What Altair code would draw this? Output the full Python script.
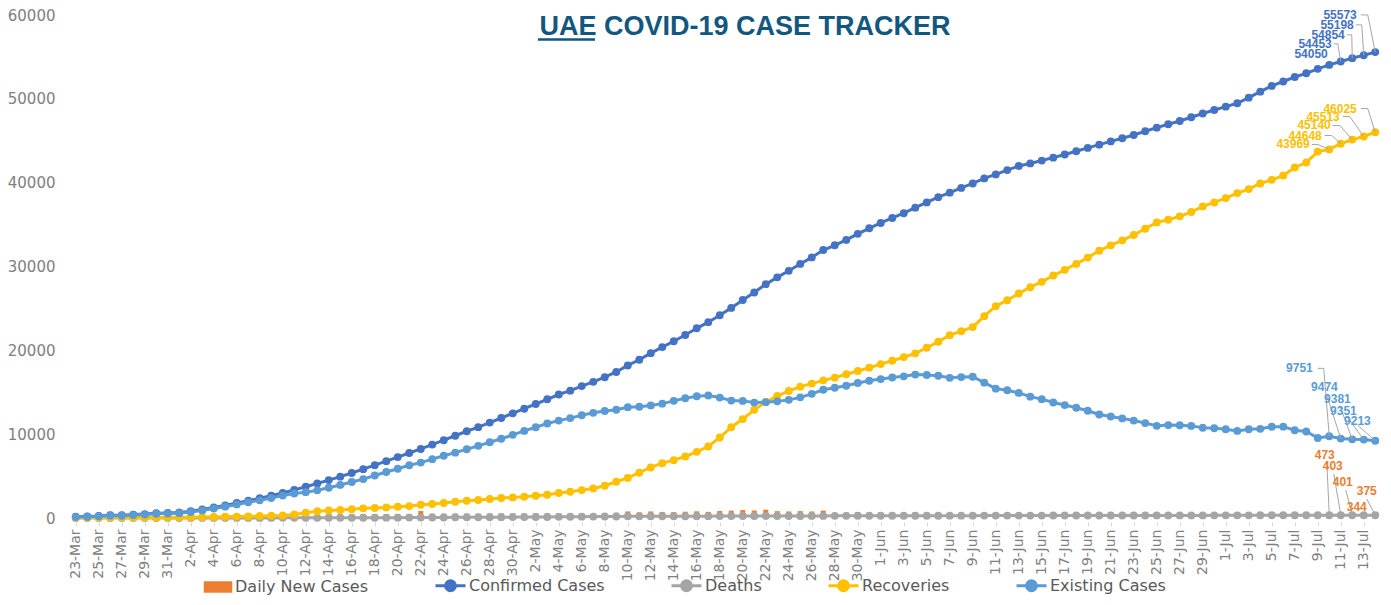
import altair as alt
import pandas as pd

# ---------------- data ----------------
dates = list(pd.date_range("2020-03-23", "2020-07-14").strftime("%-d-%b"))
tick_labels = dates[::2]

confirmed = [
    153, 198, 248, 333, 333, 405, 468, 570, 611,
    664, 814, 1024, 1264, 1505, 1799, 2076, 2359, 2659, 2990,
    3360, 3736, 4123, 4521, 4933, 5365, 5825, 6302, 6781, 7265,
    7755, 8238, 8756, 9281, 9813, 10349, 10839, 11380, 11929, 12481,
    13038, 13599, 14163, 14730, 15192, 15738, 16240, 16793, 17417, 18198,
    18878, 19661, 20386, 21084, 21831, 22627, 23358, 24190, 25063, 26004,
    26898, 27892, 28704, 29485, 30307, 31086, 31969, 32532, 33170, 33896, 34557,
    35192, 35788, 36359, 37018, 37642, 38268, 38808, 39376, 39904, 40507,
    40986, 41499, 41990, 42294, 42636, 42982, 43364, 43752, 44145, 44533,
    44925, 45303, 45683, 46133, 46563, 46973, 47360, 47797, 48246, 48667,
    49069, 49469, 50141, 50857, 51540, 52068, 52600, 53045, 53577, 54050,
    54453, 54854, 55198, 55573]

recoveries = [
    41, 45, 52, 52, 58, 58, 58, 61, 65,
    77, 96, 108, 125, 144, 167, 186, 239, 268, 300,
    420, 635, 800, 889, 960, 1040, 1150, 1200, 1260, 1340,
    1420, 1580, 1680, 1785, 1940, 2060, 2140, 2260, 2380, 2460,
    2540, 2650, 2770, 2975, 3130, 3330, 3530, 3850, 4320, 4780,
    5400, 6030, 6540, 6900, 7340, 7890, 8530, 9600, 10830, 11800,
    12900, 13840, 14550, 15150, 15670, 16030, 16420, 16740, 17140, 17530, 17930,
    18360, 18760, 19190, 19640, 20310, 21030, 21810, 22290, 22770, 24080,
    25270, 25980, 26780, 27530, 28170, 28920, 29600, 30310, 31060, 31890,
    32520, 33120, 33760, 34510, 35260, 35580, 35980, 36500, 37170, 37640,
    38160, 38760, 39230, 39900, 40340, 40850, 41810, 42400, 43710, 43969,
    44648, 45140, 45513, 46025]

deaths = [
    2, 2, 2, 2, 2, 2, 3, 3, 5,
    6, 8, 9, 10, 11, 11, 12, 12, 14, 16,
    16, 20, 22, 25, 28, 33, 35, 37, 41, 43,
    46, 52, 56, 64, 76, 82, 89, 89, 98, 105,
    111, 119, 126, 137, 146, 157, 165, 174, 185, 198,
    201, 203, 206, 208, 210, 214, 220, 224, 227, 233,
    233, 237, 241, 244, 245, 248, 253, 255, 258, 260, 262,
    264, 266, 269, 273, 274, 275, 276, 281, 283, 284,
    284, 286, 287, 288, 289, 291, 293, 294, 298, 300,
    301, 302, 303, 305, 307, 308, 309, 310, 313, 314,
    316, 317, 319, 321, 321, 321, 321, 324, 326, 330,
    331, 333, 334, 335]

existing = [
    110, 151, 194, 279, 273, 345, 407, 506, 541,
    581, 710, 907, 1129, 1350, 1621, 1878, 2108, 2377, 2674,
    2924, 3081, 3301, 3607, 3945, 4292, 4640, 5065, 5480, 5882,
    6289, 6606, 7020, 7432, 7797, 8207, 8610, 9031, 9451, 9916,
    10387, 10830, 11267, 11618, 11916, 12251, 12545, 12769, 12912, 13220,
    13277, 13428, 13640, 13976, 14281, 14523, 14608, 14366, 14006, 13971,
    13765, 13815, 13913, 14091, 14392, 14808, 15296, 15537, 15772, 16106, 16365,
    16568, 16762, 16900, 17105, 17058, 16963, 16722, 16805, 16851, 16143,
    15432, 15233, 14923, 14476, 14177, 13771, 13471, 13148, 12787, 12343,
    12104, 11881, 11620, 11318, 10996, 11085, 11071, 10987, 10763, 10713,
    10593, 10392, 10592, 10636, 10879, 10897, 10469, 10321, 9541, 9751,
    9474, 9381, 9351, 9213]

daily = [
    45, 45, 50, 85, 0, 72, 63, 102, 41,
    53, 150, 210, 240, 241, 294, 277, 283, 300, 331,
    370, 376, 387, 398, 412, 432, 460, 477, 479, 484,
    490, 830, 518, 525, 532, 536, 490, 541, 549, 552,
    557, 561, 564, 567, 462, 546, 502, 553, 624, 781,
    680, 783, 725, 698, 747, 796, 731, 832, 873, 941,
    894, 994, 812, 781, 822, 779, 883, 563, 638, 726, 661,
    635, 596, 571, 659, 624, 626, 540, 568, 528, 603,
    479, 513, 491, 304, 342, 346, 382, 388, 393, 388,
    392, 378, 380, 450, 430, 410, 387, 437, 449, 421,
    402, 400, 672, 716, 683, 528, 532, 445, 532, 473,
    403, 401, 344, 375]

bar_series = ["Daily New Cases"]
bar_colors = ["#ED7D31"]
line_series = ["Confirmed Cases", "Deaths", "Recoveries", "Existing Cases"]
line_colors = ["#4472C4", "#A5A5A5", "#FFC000", "#5B9BD5"]

# label placement (pixel offsets from the labelled point) -- styling only
conf_text_off = [(-1.5, -11), (-9, -17.7), (-7.5, -23.3), (-10, -30.4), (-18.5, -37.2)]
conf_leader = [None, [(-7, -17.7), (-3, -17.7)], [(-5.5, -23.3), (-0.5, -23.3)],
               [(-8, -30.4), (-2, -30.4)], [(-14.5, -37.2), (-7.5, -37.2)]]
rec_text_off = [(-19.5, -4.9), (-19, -8.2), (-21.5, -14.1), (-24, -19.9), (-18.5, -23.6)]
rec_leader = [[(-17.5, -4.9), (-11.5, -4.9)], [(-16, -8.2), (-9, -8.2)],
              [(-19.5, -14.1), (-12.5, -14.1)], [(-21, -19.9), (-14, -19.9)],
              [(-14.5, -23.6), (-7.5, -23.6)]]
exist_text_off = [(-16.5, -67.9), (-3, -51.3), (-1.5, -40), (-7, -28.3), (-4.5, -19.5)]
exist_leader = [[(-11.5, -67.9), (-5.5, -67.9)], [(-14, -43.3)], [(-12.5, -34)],
                [(-17, -23.3)], [(-17.5, -15.5)]]
daily_text_off = [(5.5, -59), (2, -48.6), (0.5, -32.6), (3, -8.1), (1.5, -23.8)]
daily_leader = [[(-2.5, -52)], [(-7, -40.6)], [(-6.5, -24.6)], None, [(-8.5, -15.8)]]

AXIS_FONT = "DejaVu Sans"
LABEL_FONT = "Liberation Sans"

# ---------------- scales / encodings ----------------
x_axis = alt.Axis(values=tick_labels, labelAngle=270, labelAlign="right", labelBaseline="middle",
                  labelFont=AXIS_FONT, labelFontSize=14, labelColor="#808080",
                  domain=False, ticks=True, tickSize=4, tickColor="#D9D9D9", offset=4,
                  labelPadding=3, grid=False, title=None, labelOverlap=False)
y_axis = alt.Axis(values=[0, 10000, 20000, 30000, 40000, 50000, 60000], format="d",
                  labelFont=AXIS_FONT, labelFontSize=15, labelColor="#808080",
                  domain=False, ticks=False, grid=False, labelPadding=15, title=None)

X = alt.X("date:O", scale=alt.Scale(type="point", domain=dates, padding=0.5), axis=x_axis)
Y = alt.Y("value:Q", scale=alt.Scale(domain=[0, 60000], nice=False, zero=True), axis=y_axis)

LINE_PATH = "M-1,0H1M-0.33,0A0.33,0.33,0,1,0,0.33,0A0.33,0.33,0,1,0,-0.33,0Z"
SQUARE_PATH = "M-0.95,-0.38H0.95V0.38H-0.95Z"

legend_text = dict(labelFont=AXIS_FONT, labelFontSize=16, labelColor="#595959",
                   title=None, orient="none", direction="horizontal", padding=0,
                   labelOffset=2, symbolOpacity=1)

bar_fill = alt.Fill("series:N", scale=alt.Scale(domain=bar_series, range=bar_colors),
                    legend=alt.Legend(legendX=133, legendY=557, symbolType=SQUARE_PATH,
                                      symbolSize=900, symbolStrokeWidth=0, **legend_text))
line_color = alt.Color("series:N", scale=alt.Scale(domain=line_series, range=line_colors),
                       legend=alt.Legend(legendX=364, legendY=554, symbolType=LINE_PATH,
                                         symbolSize=900, symbolStrokeWidth=3,
                                         columnPadding=60, **legend_text))


def frame(vals, name):
    return pd.DataFrame({"date": dates, "value": vals, "series": name})


layers = []
layers.append(alt.Chart(frame(daily, "Daily New Cases")).mark_bar(size=5).encode(
    x=X, y=Y, fill=bar_fill))
for vals, name in [(confirmed, "Confirmed Cases"), (deaths, "Deaths"),
                   (recoveries, "Recoveries"), (existing, "Existing Cases")]:
    layers.append(alt.Chart(frame(vals, name)).mark_line(
        strokeWidth=3,
        point=alt.OverlayMarkDef(filled=True, size=62, opacity=1)).encode(
        x=X, y=Y, color=line_color))


def labels(vals, text_off, leaders, col):
    out = []
    for i in range(5):
        d = dates[-5 + i]
        v = vals[-5 + i]
        row = pd.DataFrame({"date": [d], "value": [v], "label": [str(v)]})
        ldr = leaders[i]
        if ldr:
            pts = list(ldr) + [(0, 0)]
            for (ax, ay), (bx, by) in zip(pts[:-1], pts[1:]):
                out.append(alt.Chart(row).mark_rule(
                    color="#A6A6A6", strokeWidth=1,
                    xOffset=ax, yOffset=ay, x2Offset=bx, y2Offset=by).encode(
                    x=X, y=Y, x2="date:O", y2="value:Q"))
        dx, dy = text_off[i]
        out.append(alt.Chart(row).mark_text(
            align="right", baseline="middle", dx=dx, dy=dy, font=LABEL_FONT,
            fontSize=12, fontWeight="bold", color=col).encode(x=X, y=Y, text="label:N"))
    return out


layers += labels(confirmed, conf_text_off, conf_leader, "#4472C4")
layers += labels(recoveries, rec_text_off, rec_leader, "#FFC000")
layers += labels(existing, exist_text_off, exist_leader, "#5B9BD5")
layers += labels(daily, daily_text_off, daily_leader, "#ED7D31")

title_df = pd.DataFrame({"t": ["UAE COVID-19 CASE TRACKER"]})
layers.append(alt.Chart(title_df).mark_text(
    align="center", baseline="alphabetic", font=LABEL_FONT, fontSize=27,
    fontWeight="bold", color="#11577F").encode(
    x=alt.value(675), y=alt.value(20), text="t:N"))
layers.append(alt.Chart(title_df).mark_rule(color="#11577F", strokeWidth=2.5).encode(
    x=alt.value(468), x2=alt.value(525), y=alt.value(24.5)))

chart = alt.layer(*layers).properties(
    width=1311, height=503,
    autosize=alt.AutoSizeParams(type="none"),
    padding={"left": 62, "top": 7, "right": 2, "bottom": 79},
    background="white",
).configure_view(stroke=None)

chart.save("out.html", embed_options={"renderer": "svg", "actions": False})
